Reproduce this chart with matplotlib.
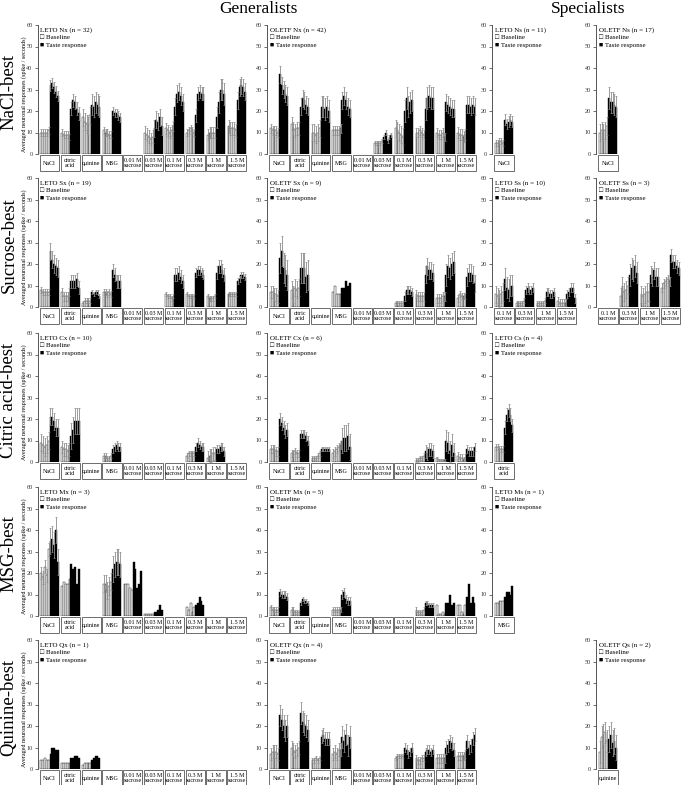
import numpy as np
import matplotlib
matplotlib.use("Agg")
import matplotlib.pyplot as plt
from matplotlib.patches import Rectangle

plt.rcParams['font.family'] = ['Liberation Serif', 'DejaVu Serif']

CATS = ["NaCl", "citric\nacid", "quinine", "MSG", "0.01 M\nsucrose", "0.03 M\nsucrose",
        "0.1 M\nsucrose", "0.3 M\nsucrose", "1 M\nsucrose", "1.5 M\nsucrose"]
SUC = CATS[6:]
N = None

# ---- NaCl-best ----
leto_nx_base = [[10, 10, 10, 10, 11], [10, 9, 9, 9, 8], [17, 15, 14, 13, 18], [11, 10, 10, 9, 9], N,
                [10, 9, 8, 7, 8], [12, 11, 10, 11, 13], [10, 11, 12, 11, 10], [9, 10, 10, 10, 10], [13, 12, 12, 12, 11]]
leto_nx_resp = [[32, 33, 31, 29, 27], [21, 25, 24, 21, 19], [23, 22, 24, 23, 22], [20, 19, 19, 18, 17], N,
                [12, 16, 15, 17, 13], [22, 28, 29, 27, 24], [18, 28, 29, 28, 28], [17, 24, 30, 30, 28], [25, 31, 32, 31, 29]]
leto_nx_berr = [1.5, 1.5, 4, 1.5, 0, 3, 2.5, 1.5, 2.5, 3]
leto_nx_rerr = [2.5, 3, 5, 2, 0, 4, 4, 3, 5, 4]

oletf_nx_base = [[12, 11, 11, 11, 10], [14, 12, 11, 12, 12], [10, 10, 9, 10, 12], [11, 11, 11, 11, 12], N,
                 [5, 5, 5, 5, 6], [12, 11, 10, 9, 8], [10, 10, 11, 10, 9], [10, 9, 9, 10, 8], [10, 9, 9, 8, 9]]
oletf_nx_resp = [[37, 32, 30, 28, 27], [22, 26, 25, 23, 22], [22, 22, 21, 22, 20], [25, 27, 25, 22, 21], N,
                 [8, 10, 6, 8, 9], [20, 26, 22, 24, 25], [21, 26, 27, 26, 26], [24, 23, 22, 21, 21], [23, 23, 22, 23, 22]]
oletf_nx_berr = [2, 3, 4, 2, 0, 1, 4, 2, 2, 2.5]
oletf_nx_rerr = [4, 4, 5, 4, 0, 1, 5, 5, 4, 4]

leto_ns_base = [[5, 5, 6, 6, 5]]
leto_ns_resp = [[16, 14, 15, 16, 15]]
leto_ns_berr = [1.5]
leto_ns_rerr = [2.5]

oletf_ns_base = [[10, 11, 10, 11, 13]]
oletf_ns_resp = [[26, 24, 24, 23, 22]]
oletf_ns_berr = [4]
oletf_ns_rerr = [5]

# ---- Sucrose-best ----
leto_sx_base = [[8, 7, 7, 7, 7], [7, 5, 5, 5, 7], [2, 3, 3, 3, 3], [7, 7, 6, 7, 6], N, N,
                [6, 5, 5, 4, 5], [6, 5, 5, 5, 5], [5, 4, 4, 4, 5], [6, 6, 6, 6, 6]]
leto_sx_resp = [[26, 22, 20, 19, 18], [12, 12, 12, 13, 9], [7, 6, 7, 7, 5], [17, 15, 12, 12, 12], N, N,
                [15, 15, 16, 14, 12], [16, 17, 17, 16, 15], [16, 19, 19, 17, 15], [12, 13, 15, 15, 14]]
leto_sx_berr = [1.5, 2, 1, 1.5, 0, 0, 1, 1, 1, 1]
leto_sx_rerr = [4, 3, 1, 3, 0, 0, 3, 2, 3, 1.5]

oletf_sx_base = [[7, 7, 6, 6, 5], [8, 6, 9, 8, 9], N, [7, 10, 6, 6, 6], N, N,
                 [2, 2, 2, 2, 2], [6, 5, 5, 5, 5], [4, 4, 4, 5, 5], [4, 6, 5, 5, 5]]
oletf_sx_resp = [[23, 26, 18, 17, 15], [18, 18, 18, 14, 15], N, [9, 9, 12, 10, 11], N, N,
                 [5, 8, 8, 8, 7], [15, 19, 17, 17, 16], [15, 19, 18, 20, 21], [14, 16, 16, 15, 11]]
oletf_sx_berr = [3, 4, 0, 0, 0, 0, 1, 2, 2, 1.5]
oletf_sx_rerr = [7, 7, 0, 0, 0, 0, 2, 4, 5, 4]

leto_ss_base = [[6, 5, 4, 6, 7], [2, 2, 2, 2, 3], [2, 2, 2, 2, 3], [3, 2, 2, 2, 2]]
leto_ss_resp = [[13, 9, 8, 10, 10], [8, 9, 8, 8, 9], [7, 7, 6, 6, 7], [6, 7, 9, 9, 4]]
leto_ss_berr = [4, 1, 1, 1.5]
leto_ss_rerr = [5, 2, 2, 2]

oletf_ss_base = [N, [5, 10, 7, 8, 10], [6, 5, 6, 7, 7], [9, 11, 12, 13, 12]]
oletf_ss_resp = [N, [15, 18, 17, 19, 16], [15, 14, 17, 14, 14], [24, 21, 21, 19, 18]]
oletf_ss_berr = [0, 4, 4, 2]
oletf_ss_rerr = [0, 5, 4, 3]

# ---- Citric acid-best ----
leto_cx_base = [[9, 8, 7, 8, 10], [7, 6, 6, 5, 6], N, [3, 3, 2, 2, 3], N, N, N,
                [3, 4, 4, 4, 4], [2, 3, 3, 4, 4], N]
leto_cx_resp = [[21, 21, 19, 16, 16], [12, 15, 19, 19, 19], N, [6, 7, 8, 7, 7], N, N, N,
                [7, 9, 8, 7, 7], [6, 6, 7, 7, 5], N]
leto_cx_berr = [4, 3, 0, 1, 0, 0, 0, 1, 3, 0]
leto_cx_rerr = [4, 6, 0, 2, 0, 0, 0, 2, 2, 0]

oletf_cx_base = [[6, 6, 6, 5, 5], [4, 4, 5, 4, 4], [2, 2, 2, 3, 4], [4, 5, 6, 7, 8], N, N, N,
                 [1, 1, 2, 2, 3], [2, 1, 1, 1, 1], [3, 2, 2, 1, 2]]
oletf_cx_resp = [[20, 18, 16, 14, 15], [13, 13, 13, 12, 10], [6, 6, 6, 6, 6], [10, 11, 11, 12, 7], N, N, N,
                 [5, 4, 6, 6, 5], [10, 9, 5, 8, 4], [6, 5, 5, 5, 7]]
oletf_cx_berr = [2, 1.5, 1, 2, 0, 0, 0, 1, 0.5, 1.5]
oletf_cx_rerr = [3, 2, 1, 6, 0, 0, 0, 3, 5, 2]

leto_cs_base = [[7, 7, 6, 6, 6]]
leto_cs_resp = [[16, 22, 24, 22, 17]]
leto_cs_berr = [1.5]
leto_cs_rerr = [3]

# ---- MSG-best ----
leto_mx_base = [[20, 18, 23, 19, 31], [14, 16, 15, 15, 17], N, [15, 15, 12, 14, 16], [15, 15, 15, 13, 12],
                [1, 1, 1, 1, 1], N, [4, 3, 6, 2, 4], N, N]
leto_mx_resp = [[35, 36, 33, 40, 25], [24, 22, 23, 15, 22], N, [22, 24, 25, 25, 24], [25, 22, 13, 15, 21],
                [2, 2, 3, 5, 3], N, [5, 6, 9, 7, 5], N, N]
leto_mx_berr = [3, 0, 0, 4, 0, 0, 0, 0, 0, 0]
leto_mx_rerr = [6, 0, 0, 6, 0, 0, 0, 0, 0, 0]

oletf_mx_base = [[4, 3, 3, 3, 3], [3, 3, 2, 2, 2], N, [3, 3, 3, 3, 3], N, N, N,
                 [3, 2, 2, 2, 3], [5, 1, 1, 2, 1], [5, 5, 2, 1, 5]]
oletf_mx_resp = [[11, 10, 10, 10, 9], [6, 8, 7, 7, 6], N, [10, 11, 8, 7, 7], N, N, N,
                 [6, 6, 5, 5, 5], [6, 6, 10, 5, 6], [9, 15, 6, 9, 6]]
oletf_mx_berr = [1, 1, 0, 1, 0, 0, 0, 1, 0, 0]
oletf_mx_rerr = [1.5, 1, 0, 2, 0, 0, 0, 1, 0, 0]

leto_ms_base = [[6, 6, 7, 7, 7]]
leto_ms_resp = [[9, 11, 11, 10, 14]]
leto_ms_berr = [0]
leto_ms_rerr = [0]

# ---- Quinine-best ----
leto_qx_base = [[4, 4, 5, 4, 4], [3, 3, 3, 3, 3], [2, 3, 3, 3, 3], N, N, N, N, N, N, N]
leto_qx_resp = [[7, 10, 10, 9, 9], [5, 5, 6, 6, 5], [4, 5, 6, 6, 5], N, N, N, N, N, N, N]
leto_qx_berr = [0, 0, 0, 0, 0, 0, 0, 0, 0, 0]
leto_qx_rerr = [0, 0, 0, 0, 0, 0, 0, 0, 0, 0]

oletf_qx_base = [[7, 8, 8, 8, 7], [10, 9, 8, 9, 10], [4, 4, 5, 4, 5], [7, 8, 7, 9, 9], N, N,
                 [5, 6, 6, 6, 6], [5, 4, 4, 5, 5], [5, 5, 5, 5, 5], [6, 6, 6, 6, 7]]
oletf_qx_resp = [[25, 23, 20, 18, 20], [26, 22, 21, 20, 18], [15, 16, 14, 14, 14], [15, 13, 16, 11, 15], N, N,
                 [10, 9, 7, 8, 10], [8, 9, 9, 8, 9], [10, 11, 13, 12, 9], [13, 10, 11, 14, 16]]
oletf_qx_berr = [3, 3, 1, 3, 0, 0, 1, 1.5, 2, 2]
oletf_qx_rerr = [5, 5, 3, 5, 0, 0, 2, 2, 3, 3]

oletf_qs_base = [[8, 15, 16, 17, 13]]
oletf_qs_resp = [[14, 16, 12, 13, 10]]
oletf_qs_berr = [5]
oletf_qs_rerr = [6]

ROW_LABELS = ["NaCl-best", "Sucrose-best", "Citric acid-best", "MSG-best", "Quinine-best"]

W, H = 683, 785
zero_y = [154, 307, 462, 616, 769]
col_x = [37.5, 267, 492, 596]
gw = 20.8
ph = 129

fig = plt.figure(figsize=(W / 100, H / 100), dpi=100)


def add_panel(row, col, label, cats, base, resp, berr, rerr):
    n = len(cats)
    width = (n + 0.08) * gw
    ax = fig.add_axes([col_x[col] / W, 1 - zero_y[row] / H, width / W, ph / H])
    ax.set_xlim(-0.08, n)
    ax.set_ylim(0, 60)
    bw = 0.088
    for i in range(n):
        if base[i] is not None:
            xb = i + 0.06 + bw * np.arange(5) + bw / 2
            xr = xb + 5 * bw
            ax.bar(xb, base[i], width=bw, color="white", edgecolor="black", linewidth=0.3)
            ax.bar(xr, resp[i], width=bw, color="black", edgecolor="black", linewidth=0.3)
            if berr[i] > 0:
                ax.errorbar(xb, base[i], yerr=berr[i], fmt="none", ecolor="#8c8c8c",
                            elinewidth=0.6, capsize=0.8, capthick=0.5)
            if rerr[i] > 0:
                ax.errorbar(xr, resp[i], yerr=rerr[i], fmt="none", ecolor="#8c8c8c",
                            elinewidth=0.6, capsize=0.8, capthick=0.5)
        tr = ax.get_xaxis_transform()
        ax.add_patch(Rectangle((i + 0.04, -0.135), 0.92, 0.13, transform=tr, clip_on=False,
                               facecolor="white", edgecolor="#555555", linewidth=0.6))
        ax.text(i + 0.5, -0.07, cats[i], transform=tr, ha="center", va="center",
                fontsize=4.3, linespacing=1.1)
    for s in ["top", "right", "bottom"]:
        ax.spines[s].set_visible(False)
    ax.spines["left"].set_color("#555555")
    ax.spines["left"].set_linewidth(0.7)
    ax.set_xticks([])
    ax.set_yticks(range(0, 61, 10))
    ax.tick_params(axis="y", labelsize=4.5, length=2, width=0.5, pad=1.5, colors="#333333")
    for yy, txt in [(0.962, label), (0.905, "\u25a1 Baseline"), (0.84, "\u25a0 Taste response")]:
        ax.annotate(txt, xy=(0, yy), xycoords="axes fraction", xytext=(2, 0),
                    textcoords="offset points", va="center", fontsize=5)
    if col == 0:
        fig.text(24 / W, 1 - (zero_y[row] - 60) / H, "Averaged neuronal responses (spike / seconds)",
                 rotation=90, ha="center", va="center", fontsize=4.4)
    return ax


add_panel(0, 0, "LETO Nx (n = 32)", CATS, leto_nx_base, leto_nx_resp, leto_nx_berr, leto_nx_rerr)
add_panel(0, 1, "OLETF Nx (n = 42)", CATS, oletf_nx_base, oletf_nx_resp, oletf_nx_berr, oletf_nx_rerr)
add_panel(0, 2, "LETO Ns (n = 11)", CATS[:1], leto_ns_base, leto_ns_resp, leto_ns_berr, leto_ns_rerr)
add_panel(0, 3, "OLETF Ns (n = 17)", CATS[:1], oletf_ns_base, oletf_ns_resp, oletf_ns_berr, oletf_ns_rerr)

add_panel(1, 0, "LETO Sx (n = 19)", CATS, leto_sx_base, leto_sx_resp, leto_sx_berr, leto_sx_rerr)
add_panel(1, 1, "OLETF Sx (n = 9)", CATS, oletf_sx_base, oletf_sx_resp, oletf_sx_berr, oletf_sx_rerr)
add_panel(1, 2, "LETO Ss (n = 10)", SUC, leto_ss_base, leto_ss_resp, leto_ss_berr, leto_ss_rerr)
add_panel(1, 3, "OLETF Ss (n = 3)", SUC, oletf_ss_base, oletf_ss_resp, oletf_ss_berr, oletf_ss_rerr)

add_panel(2, 0, "LETO Cx (n = 10)", CATS, leto_cx_base, leto_cx_resp, leto_cx_berr, leto_cx_rerr)
add_panel(2, 1, "OLETF Cx (n = 6)", CATS, oletf_cx_base, oletf_cx_resp, oletf_cx_berr, oletf_cx_rerr)
add_panel(2, 2, "LETO Cs (n = 4)", CATS[1:2], leto_cs_base, leto_cs_resp, leto_cs_berr, leto_cs_rerr)

add_panel(3, 0, "LETO Mx (n = 3)", CATS, leto_mx_base, leto_mx_resp, leto_mx_berr, leto_mx_rerr)
add_panel(3, 1, "OLETF Mx (n = 5)", CATS, oletf_mx_base, oletf_mx_resp, oletf_mx_berr, oletf_mx_rerr)
add_panel(3, 2, "LETO Ms (n = 1)", CATS[3:4], leto_ms_base, leto_ms_resp, leto_ms_berr, leto_ms_rerr)

add_panel(4, 0, "LETO Qx (n = 1)", CATS, leto_qx_base, leto_qx_resp, leto_qx_berr, leto_qx_rerr)
add_panel(4, 1, "OLETF Qx (n = 4)", CATS, oletf_qx_base, oletf_qx_resp, oletf_qx_berr, oletf_qx_rerr)
add_panel(4, 3, "OLETF Qs (n = 2)", CATS[2:3], oletf_qs_base, oletf_qs_resp, oletf_qs_berr, oletf_qs_rerr)

for r, lab in enumerate(ROW_LABELS):
    fig.text(9 / W, 1 - (zero_y[r] - 62) / H, lab, rotation=90, ha="center", va="center", fontsize=13.5)

fig.text(258 / W, 1 - 9 / H, "Generalists", ha="center", va="center", fontsize=12.5)
fig.text(588 / W, 1 - 9 / H, "Specialists", ha="center", va="center", fontsize=12.5)

fig.savefig("out.png", dpi=100)
